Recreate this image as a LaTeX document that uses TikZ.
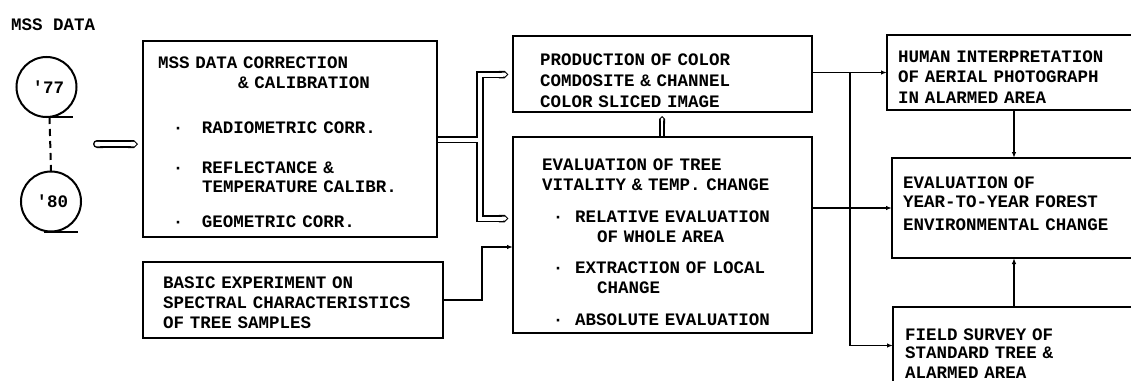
\documentclass[tikz,border=0pt]{standalone}
\usepackage{fontspec}
\newfontfamily\tw{Liberation Mono}
\usetikzlibrary{arrows.meta,calc}
\newcommand\bl[3]{\hspace*{#1}\makebox[10pt]{·}\hspace*{#2}#3}
\newcommand\twset{\tw\bfseries\fontsize{17.5pt}{20pt}\selectfont\spaceskip=0.6em\relax\xspaceskip=0.6em\relax}
\begin{document}
\begin{tikzpicture}[x=1pt,y=-1pt,
  fnt/.style={font=\twset},
  box/.style={fnt,draw,line width=2pt,inner sep=0pt,outer sep=0pt,anchor=north west,align=left},
  txt/.style={fnt,inner sep=0pt},
  reel/.style={fnt,circle,draw,line width=2pt,minimum size=60pt,inner sep=0pt,outer sep=0pt},
  conn/.style={line width=1.6pt,-{Latex[length=6pt,width=4.5pt]}},
  pipeo/.style={line width=7.5pt,black},
  pipei/.style={line width=4pt,white,shorten >=1.5pt},
  pipeso/.style={line width=6pt,black},
  pipesi/.style={line width=2.5pt,white,shorten >=1.5pt},
  pipeeo/.style={line width=8pt,black},
  pipeei/.style={line width=4.5pt,white,shorten >=1.5pt,shorten <=1.5pt}]
\useasboundingbox (0,0) rectangle (1131,380);
\fill[white] (0,0) rectangle (1131,380);
\clip (0,0) rectangle (1131,380);

% source
\node[txt,anchor=west] (title) at (11,25) {MSS DATA};
\node[reel] (c77) at (46.5,87) {\hspace*{4pt}'77};
\node[reel] (c80) at (51,201.5) {\hspace*{3pt}'80};
\draw[line width=2pt] ($(c77.south)+(-3,0)$) -- ($(c77.south)+(26,0)$);
\draw[line width=2pt] ($(c80.south)+(-7,0)$) -- ($(c80.south)+(27,0)$);
\draw[line width=2pt,dash pattern=on 7pt off 5pt] ($(c77.south)+(3,0)$) -- (c80.north);

% boxes
\node[box,text width=294pt,text height=27pt,text depth=169pt] (mss) at (143,41)
 {\leftskip=15pt MSS DATA CORRECTION\\
  \hspace*{80pt}\& CALIBRATION\\[25pt]
  \bl{15pt}{19pt}{RADIOMETRIC CORR.}\\[20pt]
  \bl{15pt}{19pt}{REFLECTANCE \&}\\[-1pt]
  \hspace*{44pt}TEMPERATURE CALIBR.\\[15pt]
  \bl{15pt}{19pt}{GEOMETRIC CORR.}\par};
\node[box,text width=299pt,text height=29pt,text depth=47pt] (prod) at (513,36)
 {\leftskip=27pt PRODUCTION OF COLOR\\[1pt]
  COMDOSITE \& CHANNEL\\[1pt]
  COLOR SLICED IMAGE\par};
\node[box,text width=299pt,text height=33pt,text depth=163pt] (eval) at (513,137)
 {\leftskip=29pt EVALUATION OF TREE\\
  VITALITY \& TEMP. CHANGE\\[12pt]
  \bl{11pt}{12pt}{RELATIVE EVALUATION}\\
  \hspace*{55pt}OF WHOLE AREA\\[11pt]
  \bl{11pt}{12pt}{EXTRACTION OF LOCAL}\\
  \hspace*{55pt}CHANGE\\[12pt]
  \bl{11pt}{12pt}{ABSOLUTE EVALUATION}\par};
\node[box,text width=300pt,text height=26pt,text depth=50pt] (basic) at (143,262)
 {\leftskip=20pt BASIC EXPERIMENT ON\\
  SPECTRAL CHARACTERISTICS\\
  OF TREE SAMPLES\par};
\node[box,text width=263pt,text height=27pt,text depth=48pt] (human) at (887,35)
 {\leftskip=11pt HUMAN INTERPRETATION\\
  OF AERIAL PHOTOGRAPH\\[1pt]
  IN ALARMED AREA\par};
\node[box,text width=258pt,text height=30pt,text depth=70pt] (evy) at (892,158)
 {\leftskip=11pt EVALUATION OF\\[-1pt]
  YEAR-TO-YEAR FOREST\\[3pt]
  ENVIRONMENTAL CHANGE\par};
\node[box,text width=257pt,text height=33pt,text depth=44pt] (field) at (893,307)
 {\leftskip=12pt FIELD SURVEY OF\\[-2pt]
  STANDARD TREE \&\\
  ALARMED AREA\par};

% hollow (pipe) connectors
\coordinate (in) at (93,144);
\coordinate (p) at (480,139.5);
\coordinate (pt) at (480,74.5);
\coordinate (pb) at (480,218.5);
\coordinate (v) at (662,0);
\draw[pipeeo,{Round Cap}-{Triangle Cap}] (in) -- ($(mss.west |- in)+(-5,0)$);
\draw[pipeo,-{Triangle Cap}] ($(mss.east |- p)+(1,0)$) -- (p) -- (pt) -- ($(prod.west |- pt)+(-4.75,0)$);
\draw[pipeo,-{Triangle Cap}] (p) -- (pb) -- ($(eval.west |- pb)+(-4.75,0)$);
\draw[pipeso,-{Triangle Cap}] ($(v |- eval.north)+(0,-1)$) -- ($(v |- prod.south)+(0,4)$);
\draw[pipeei,{Round Cap}-{Triangle Cap}] (in) -- ($(mss.west |- in)+(-5,0)$);
\draw[pipei,-{Triangle Cap}] ($(mss.east |- p)+(1,0)$) -- (p) -- (pt) -- ($(prod.west |- pt)+(-4.75,0)$);
\draw[pipei,-{Triangle Cap}] (p) -- (pb) -- ($(eval.west |- pb)+(-4.75,0)$);
\draw[pipesi,-{Triangle Cap}] ($(v |- eval.north)+(0,-1)$) -- ($(v |- prod.south)+(0,4)$);

% line connectors
\coordinate (j) at (850,72);
\coordinate (vx) at (1014,0);
\coordinate (k) at (482,247);
\draw[conn] (prod.east |- human.west) -- (human.west);
\draw[conn] (j |- human.west) -- (j |- field.west) -- (field.west);
\draw[conn] (eval.east |- evy.west) -- (evy.west);
\draw[conn] (vx |- human.south) -- (vx |- evy.north);
\draw[conn] (vx |- field.north) -- (vx |- evy.south);
\draw[conn] (basic.east) -| (k) -- (k -| eval.west);
\end{tikzpicture}
\end{document}
